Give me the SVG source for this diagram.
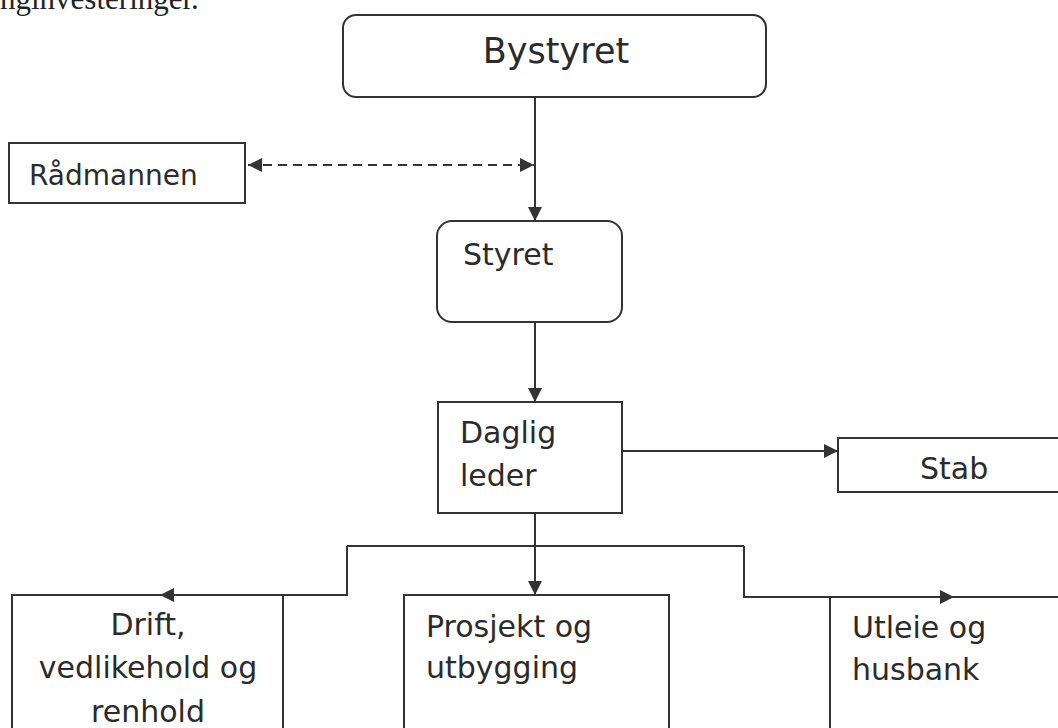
<svg xmlns="http://www.w3.org/2000/svg" width="1058" height="728" viewBox="0 0 1058 728">
<style>
.box{fill:#fff;stroke:#333;stroke-width:2}
.t{font-family:"DejaVu Sans","Verdana",sans-serif;fill:#2b2b2b;font-size:30px}
.c{fill:none;stroke:#333;stroke-width:2}
.d{fill:none;stroke:#333;stroke-width:2;stroke-dasharray:9 6}
</style>
<defs>
<marker id="ah" markerUnits="userSpaceOnUse" markerWidth="16" markerHeight="14" refX="14" refY="7" orient="auto-start-reverse">
<path d="M0,0 L14,7 L0,14 Z" fill="#333"/>
</marker>
</defs>
<rect width="1058" height="728" fill="#fff"/>
<text x="0" y="9" style="font-family:'Liberation Serif',serif;font-size:31px;fill:#222">nginvesteringer.</text>
<g id="connectors">
<line class="c" x1="535" y1="97" x2="535" y2="221" marker-end="url(#ah)"/>
<line class="d" x1="248" y1="165" x2="534" y2="165" marker-start="url(#ah)" marker-end="url(#ah)"/>
<line class="c" x1="535" y1="322" x2="535" y2="402" marker-end="url(#ah)"/>
<line class="c" x1="622" y1="451" x2="838" y2="451" marker-end="url(#ah)"/>
<line class="c" x1="535" y1="513" x2="535" y2="595" marker-end="url(#ah)"/>
<line class="c" x1="347" y1="546" x2="744" y2="546"/>
<polyline class="c" points="347,546 347,595 160,595" marker-end="url(#ah)"/>
<polyline class="c" points="744,546 744,597 954,597" marker-end="url(#ah)"/>
<line class="c" x1="954" y1="597" x2="1060" y2="597"/>
</g>
<g id="bystyret">
<rect class="box" x="343" y="15" width="423" height="82" rx="13"/>
<text class="t" x="556" y="63" text-anchor="middle" style="font-size:35px">Bystyret</text>
</g>
<g id="radmannen">
<rect class="box" x="9" y="143" width="236" height="60"/>
<text class="t" x="29" y="185" style="font-size:28px">Rådmannen</text>
</g>
<g id="styret">
<rect class="box" x="437" y="221" width="185" height="101" rx="15"/>
<text class="t" x="463" y="265">Styret</text>
</g>
<g id="daglig">
<rect class="box" x="438" y="402" width="184" height="111"/>
<text class="t" x="460" y="443">Daglig</text>
<text class="t" x="460" y="486">leder</text>
</g>
<g id="stab">
<rect class="box" x="838" y="438" width="240" height="54"/>
<text class="t" x="920" y="479">Stab</text>
</g>
<g id="drift">
<path class="c" d="M12,800 V595 H283 V800"/>
<text class="t" x="148" y="635" text-anchor="middle">Drift,</text>
<text class="t" x="148" y="678" text-anchor="middle">vedlikehold og</text>
<text class="t" x="148" y="722" text-anchor="middle">renhold</text>
</g>
<g id="prosjekt">
<rect class="box" x="404" y="595" width="265" height="200"/>
<text class="t" x="426" y="637">Prosjekt og</text>
<text class="t" x="426" y="678">utbygging</text>
</g>
<g id="utleie">
<path class="c" d="M830,800 V597"/>
<text class="t" x="852" y="638">Utleie og</text>
<text class="t" x="852" y="680">husbank</text>
</g>
</svg>
